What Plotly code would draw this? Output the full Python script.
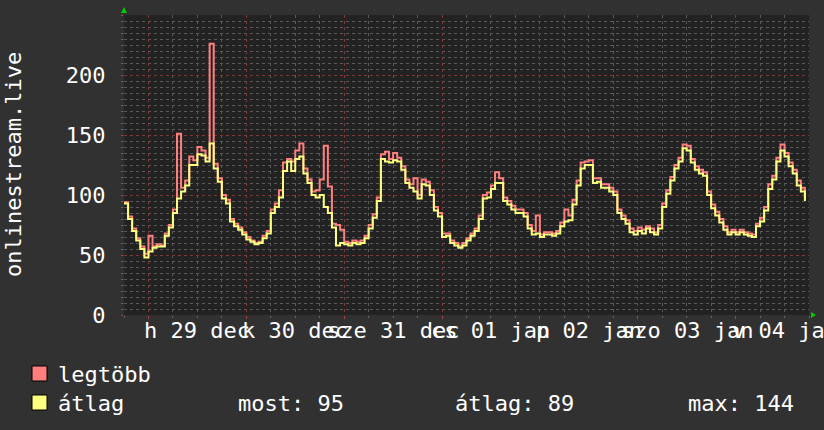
import pandas as pd
import plotly.graph_objects as go

# ---------------- data ----------------
start_time = "2014-12-28 18:00"
n_hours = 168

legtobb = [94, 82, 72, 64, 57, 51, 66, 57, 59, 58, 68, 75, 88, 151, 106, 112, 132, 129, 140, 137,
           131, 226, 126, 114, 100, 96, 80, 76, 73, 69, 65, 62, 60, 61, 66, 70, 88, 93, 104, 127,
           130, 128, 137, 143, 122, 113, 103, 104, 113, 141, 107, 76, 75, 71, 61, 60, 62, 61, 62, 66,
           75, 84, 98, 134, 136, 130, 135, 131, 124, 113, 109, 114, 100, 113, 111, 104, 90, 85, 68, 68,
           62, 60, 57, 60, 64, 68, 72, 83, 100, 102, 108, 119, 114, 98, 95, 91, 88, 88, 85, 75,
           70, 83, 67, 69, 69, 68, 70, 77, 88, 83, 96, 112, 127, 128, 129, 114, 114, 109, 109, 106,
           103, 88, 83, 79, 72, 70, 73, 71, 74, 72, 69, 75, 93, 104, 115, 125, 131, 142, 141, 130,
           124, 121, 119, 103, 92, 86, 80, 74, 69, 71, 69, 71, 69, 68, 67, 76, 81, 90, 109, 116,
           131, 142, 135, 127, 121, 112, 106, 97]

atlag = [93, 80, 70, 62, 55, 48, 53, 56, 57, 57, 66, 73, 85, 97, 103, 108, 125, 125, 134, 133,
         128, 143, 122, 111, 97, 93, 78, 74, 71, 67, 63, 61, 59, 60, 64, 68, 85, 90, 98, 120,
         128, 120, 130, 132, 118, 110, 100, 98, 100, 90, 85, 73, 58, 60, 59, 58, 60, 59, 60, 64,
         72, 81, 95, 130, 128, 127, 129, 128, 121, 110, 106, 103, 97, 109, 108, 100, 87, 82, 65, 66,
         60, 58, 56, 58, 62, 66, 70, 80, 97, 98, 105, 110, 110, 95, 92, 88, 85, 85, 82, 72,
         67, 68, 65, 67, 67, 66, 68, 74, 78, 79, 92, 108, 122, 125, 125, 110, 111, 106, 106, 103,
         100, 85, 80, 76, 69, 67, 70, 68, 72, 69, 67, 72, 90, 101, 112, 122, 128, 139, 137, 127,
         121, 118, 116, 100, 89, 83, 77, 71, 67, 69, 67, 69, 67, 66, 65, 74, 78, 87, 105, 113,
         128, 137, 132, 124, 118, 108, 103, 95]

day_labels = ["h 29 dec", "k 30 dec", "sze 31 dec", "cs 01 jan", "p 02 jan", "szo 03 jan", "v 04 jan"]
day_starts = ["2014-12-29", "2014-12-30", "2014-12-31", "2015-01-01", "2015-01-02", "2015-01-03", "2015-01-04"]
y_ticks = [0, 50, 100, 150, 200]
y_title = "onlinestream.live"
legend_names = ["legtöbb", "átlag"]
stats = ["most: 95", "átlag: 89", "max: 144"]

# ---------------- styling ----------------
W, H = 824, 430
ML, MR, MT, MB = 124, 15, 15, 115
PW, PH = W - ML - MR, H - MT - MB
FONT = "DejaVu Sans Mono"
FS = 22
RED = "#ff7f7f"
YEL = "#ffff7f"
TXT = "#ffffff"
PAPER = "#313131"
PLOT = "#222222"
MINOR_GRID = "#5a5a5a"
MAJOR_GRID = "#7a3a3a"


def px(x):
    return (x - ML) / PW


def py(y):
    return (H - MB - y) / PH


times = pd.date_range(start_time, periods=n_hours, freq="h")
range_start = pd.Timestamp(start_time)
range_end = range_start + pd.Timedelta(hours=n_hours)

fig = go.Figure()
fig.add_trace(go.Scatter(x=times, y=legtobb, mode="lines", line=dict(color=RED, width=2, shape="hv"),
                         name=legend_names[0], hoverinfo="skip"))
fig.add_trace(go.Scatter(x=times, y=atlag, mode="lines", line=dict(color=YEL, width=2, shape="hv"),
                         name=legend_names[1], hoverinfo="skip"))

annotations = []
# day labels centered on noon
for d, lab in zip(day_starts, day_labels):
    annotations.append(dict(x=pd.Timestamp(d) + pd.Timedelta(hours=12), y=py(331), xref="x", yref="paper",
                            text=lab, showarrow=False, xanchor="center", yanchor="middle",
                            font=dict(family=FONT, size=FS, color=TXT)))
# y title
annotations.append(dict(x=px(13), y=py(164), xref="paper", yref="paper", text=y_title, textangle=-90,
                        showarrow=False, xanchor="center", yanchor="middle",
                        font=dict(family=FONT, size=FS, color=TXT)))
# legend texts
annotations.append(dict(x=px(56), y=py(374), xref="paper", yref="paper", text=legend_names[0],
                        showarrow=False, xanchor="left", yanchor="middle",
                        font=dict(family=FONT, size=FS, color=TXT)))
annotations.append(dict(x=px(56), y=py(403), xref="paper", yref="paper", text=legend_names[1],
                        showarrow=False, xanchor="left", yanchor="middle",
                        font=dict(family=FONT, size=FS, color=TXT)))
for sx, s in zip([236, 453, 686], stats):
    annotations.append(dict(x=px(sx), y=py(403), xref="paper", yref="paper", text=s,
                            showarrow=False, xanchor="left", yanchor="middle",
                            font=dict(family=FONT, size=FS, color=TXT)))

shapes = []
for (y0, y1), c in zip([(366, 381), (395, 410)], [RED, YEL]):
    shapes.append(dict(type="rect", xref="paper", yref="paper", x0=px(32), x1=px(47), y0=py(y1), y1=py(y0),
                       fillcolor=c, line=dict(color="#000000", width=1)))
# green arrows
shapes.append(dict(type="path", xref="paper", yref="paper",
                   path=f"M {px(121)} {py(13)} L {px(127)} {py(13)} L {px(124)} {py(7)} Z",
                   fillcolor="#00cc00", line=dict(width=0)))
shapes.append(dict(type="path", xref="paper", yref="paper",
                   path=f"M {px(811)} {py(312)} L {px(811)} {py(318)} L {px(816)} {py(315)} Z",
                   fillcolor="#00cc00", line=dict(width=0)))

fig.update_layout(
    width=W, height=H, template="none",
    margin=dict(l=ML, r=MR, t=MT, b=MB, autoexpand=False),
    paper_bgcolor=PAPER, plot_bgcolor=PLOT,
    showlegend=False,
    annotations=annotations, shapes=shapes,
    font=dict(family=FONT, size=FS, color=TXT),
)
fig.update_xaxes(
    type="date", range=[range_start, range_end], automargin=False,
    tickmode="array", tickvals=[pd.Timestamp(d) for d in day_starts], showticklabels=False,
    showgrid=True, gridcolor=MAJOR_GRID, griddash="dot", gridwidth=1,
    ticks="outside", ticklen=3, tickcolor="#aa4444",
    minor=dict(dtick=6 * 3600 * 1000, tick0="2014-12-29", showgrid=True, gridcolor=MINOR_GRID,
               griddash="dot", gridwidth=1, ticks="outside", ticklen=2, tickcolor="#666666"),
    zeroline=False, showline=False, fixedrange=True,
)
fig.update_yaxes(
    range=[0, 250], automargin=False,
    tickmode="array", tickvals=y_ticks,
    tickfont=dict(family=FONT, size=FS, color=TXT),
    ticks="outside", ticklen=2, tickcolor="#aa4444", ticklabelstandoff=11,
    showgrid=True, gridcolor=MAJOR_GRID, griddash="dot", gridwidth=1,
    minor=dict(dtick=5, tick0=0, showgrid=True, gridcolor=MINOR_GRID, griddash="dot", gridwidth=1,
               ticks="outside", ticklen=2, tickcolor="#666666"),
    zeroline=False, showline=False, fixedrange=True,
)

fig.write_html(
    "out.html",
    config={"displayModeBar": False, "staticPlot": True},
    post_script="document.body.style.margin='0';document.body.style.background='#313131';",
)
